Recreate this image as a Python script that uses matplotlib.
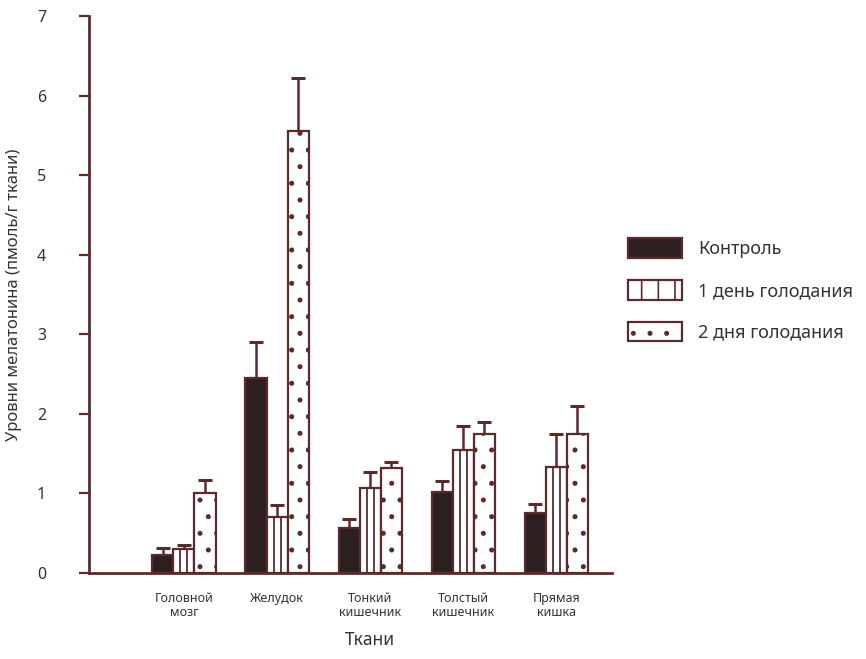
import numpy as np
import matplotlib.pyplot as plt
from matplotlib.patches import Patch

plt.rcParams['font.family'] = ['Noto Sans', 'DejaVu Sans']
plt.rcParams['hatch.linewidth'] = 1.2

tissues = ['Головной\nмозг', 'Желудок', 'Тонкий\nкишечник', 'Толстый\nкишечник', 'Прямая\nкишка']
groups = ['Контроль', '1 день голодания', '2 дня голодания']

control = [0.22, 2.45, 0.57, 1.02, 0.75]
day1 = [0.30, 0.70, 1.07, 1.55, 1.33]
day2 = [1.00, 5.55, 1.32, 1.75, 1.75]

control_err = [0.10, 0.45, 0.11, 0.13, 0.12]
day1_err = [0.05, 0.15, 0.20, 0.30, 0.42]
day2_err = [0.17, 0.67, 0.08, 0.15, 0.35]

edge = '#5b2b2b'
dark = '#2b1f1f'
txt = '#333333'

fig = plt.figure(figsize=(8.66, 6.59), dpi=100)
ax = fig.add_axes([0.1028, 0.1305, 0.604, 0.8452])

x = np.arange(len(tissues))
w = 0.226
styles = [dict(color=dark, edgecolor=edge, hatch=None),
          dict(color='white', edgecolor=edge, hatch=None),
          dict(color='white', edgecolor=edge, hatch='.')]
series = [control, day1, day2]
errs = [control_err, day1_err, day2_err]

for i, (vals, err, st) in enumerate(zip(series, errs, styles)):
    pos = x + (i - 1) * w
    ax.errorbar(pos, vals, yerr=[np.zeros(len(vals)), err], fmt='none',
                ecolor=edge, elinewidth=1.8, capsize=5, capthick=2.2, zorder=1)
    ax.bar(pos, vals, width=w, facecolor=st['color'], edgecolor=st['edgecolor'],
           hatch=st['hatch'], linewidth=1.6, zorder=2)

# striped bars: two inner lines split each bar into thirds
for k in (-1, 1):
    ax.vlines(x + k * w / 6, 0, day1, color=edge, linewidth=1.3, zorder=3)

ax.set_xlim(-1.02, 4.6)
ax.set_ylim(0, 7)
ax.set_yticks(range(8))
ax.set_xticks(x)
ax.set_xticklabels(tissues, fontsize=9, color=txt, linespacing=1.1)
ax.tick_params(axis='x', length=0, pad=14)
ax.tick_params(axis='y', direction='out', length=7, width=1.6, color=edge,
               labelsize=11.5, labelcolor=txt, pad=24)
for s in ['top', 'right']:
    ax.spines[s].set_visible(False)
for s in ['left', 'bottom']:
    ax.spines[s].set_color(edge)
    ax.spines[s].set_linewidth(2)

ax.set_ylabel('Уровни мелатонина (пмоль/г ткани)', fontsize=12, color=txt)
ax.yaxis.set_label_coords(-0.128, 0.5)
fig.text(0.427, 0.0155, 'Ткани', fontsize=12.5, color=txt, ha='center', va='bottom')

legend_hatch = [None, '|', '.']
handles = [Patch(facecolor=st['color'], edgecolor=st['edgecolor'], hatch=h,
                 linewidth=1.6) for st, h in zip(styles, legend_hatch)]
fig.legend(handles, groups, loc='center left', bbox_to_anchor=(0.725, 0.56),
           frameon=False, fontsize=13, handlelength=3.0, handleheight=1.3,
           labelspacing=1.2, handletextpad=0.9, borderpad=0, borderaxespad=0,
           labelcolor=txt)

fig.savefig('out.png', dpi=100)
